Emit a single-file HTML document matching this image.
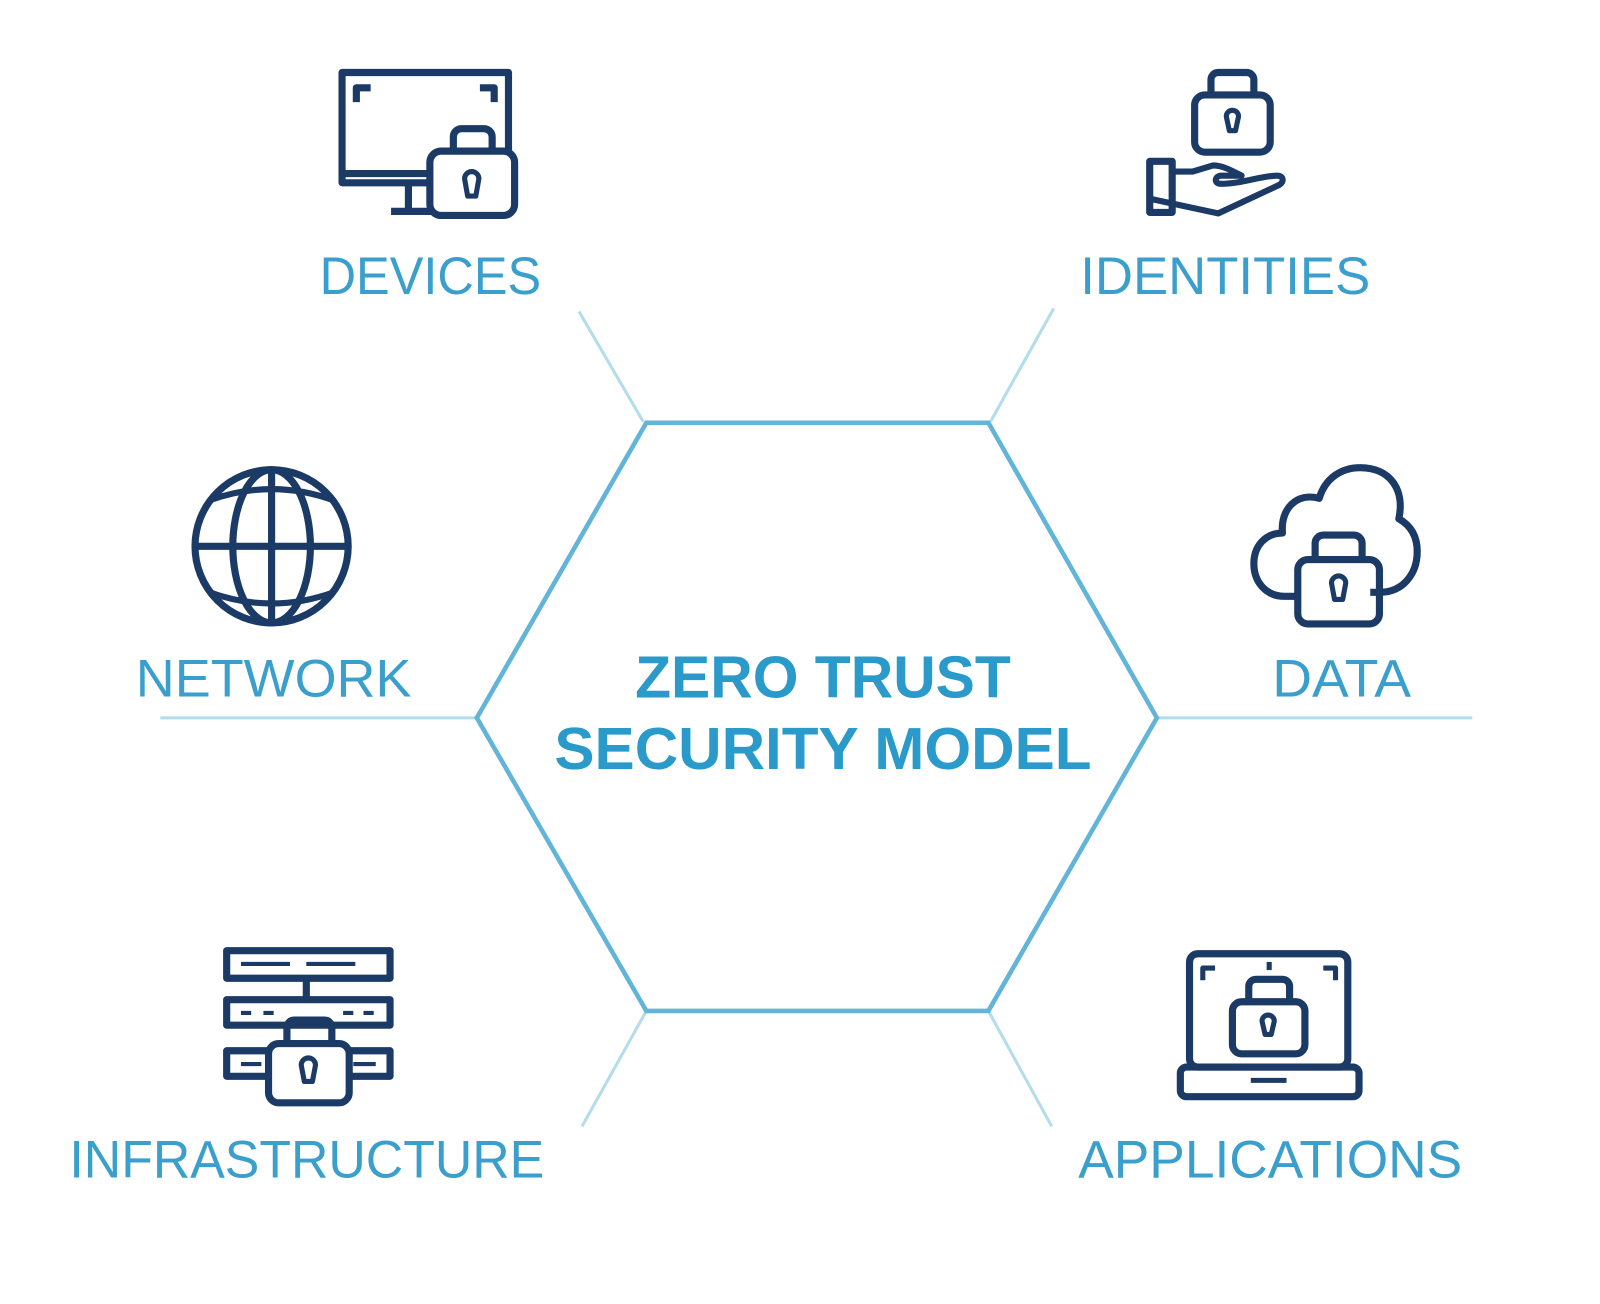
<!DOCTYPE html>
<html><head><meta charset="utf-8"><style>
html,body{margin:0;padding:0;background:#fff;}
svg{display:block;}
text{font-family:"Liberation Sans",sans-serif;}
</style></head><body>
<svg width="1600" height="1304" viewBox="0 0 1567 1277" preserveAspectRatio="none" xmlns="http://www.w3.org/2000/svg">
<rect width="1567" height="1277" fill="#fff"/>
<g stroke="#b3dcec" stroke-width="3" fill="none">
<line x1="630" y1="413" x2="567" y2="305"/>
<line x1="970" y1="413" x2="1032" y2="302"/>
<line x1="467" y1="703" x2="157" y2="703"/>
<line x1="1133" y1="703" x2="1442" y2="703"/>
<line x1="633" y1="990" x2="570" y2="1103"/>
<line x1="968" y1="990" x2="1030" y2="1103"/>
</g>
<polygon points="633,414 968,414 1133,703 968,990 633,990 467,703" fill="none" stroke="#62b4d8" stroke-width="4.5"/>
<g fill="#2a9acb" font-weight="bold" font-size="58" text-anchor="middle">
<text x="806" y="683" textLength="368" lengthAdjust="spacingAndGlyphs">ZERO TRUST</text>
<text x="806" y="753" textLength="526" lengthAdjust="spacingAndGlyphs">SECURITY MODEL</text>
</g>
<g fill="#3a9fcc" font-size="52">
<text x="313" y="288" textLength="217" lengthAdjust="spacingAndGlyphs">DEVICES</text>
<text x="1058" y="288" textLength="284" lengthAdjust="spacingAndGlyphs">IDENTITIES</text>
<text x="133" y="682" textLength="270" lengthAdjust="spacingAndGlyphs">NETWORK</text>
<text x="1246" y="682" textLength="136" lengthAdjust="spacingAndGlyphs">DATA</text>
<text x="68" y="1153" textLength="465" lengthAdjust="spacingAndGlyphs">INFRASTRUCTURE</text>
<text x="1056" y="1153" textLength="376" lengthAdjust="spacingAndGlyphs">APPLICATIONS</text>
</g>
<g stroke="#1b3a66" stroke-width="7" fill="none" stroke-linejoin="round">
<!-- devices -->
<rect x="335" y="71" width="163" height="108"/>
<line x1="335" y1="170" x2="425" y2="170"/>
<line x1="400" y1="180" x2="400" y2="205"/>
<line x1="383" y1="207" x2="425" y2="207"/>
<path d="M349 100 V86 H363 M470 86 H484 V100"/>
<rect x="421" y="148" width="83" height="63" rx="11" fill="#fff"/>
<path d="M444 148 V134 a8 8 0 0 1 8-8 h22 a8 8 0 0 1 8 8 V148"/>
<path d="M462 168 a7 7 0 0 1 7 7 l-3 17 h-8 l-3-17 a7 7 0 0 1 7-7z" stroke-width="5"/>
<!-- identities -->
<rect x="1170" y="93" width="74" height="56" rx="10"/>
<path d="M1186 93 V78 a7 7 0 0 1 7-7 h28 a7 7 0 0 1 7 7 V93"/>
<path d="M1207 108 a6 6 0 0 1 6 6 l-3 14 h-6 l-3-14 a6 6 0 0 1 6-6z" stroke-width="5"/>
<rect x="1126" y="158" width="22" height="50"/>
<path d="M1148 168 h20 l20 -6 c10 0 20 6 28 10 h-20 c-6 0 -8 8 0 8 c20 0 40-8 55-8 c6 0 7 6 2 9 l-60 28 l-65-14" stroke-width="6"/>
<!-- network -->
<circle cx="266" cy="535" r="75"/>
<ellipse cx="266" cy="535" rx="38" ry="75"/>
<line x1="266" y1="460" x2="266" y2="610"/>
<line x1="191" y1="535" x2="341" y2="535"/>
<path d="M205 490 Q266 468 327 490 M205 580 Q266 602 327 580" stroke-width="6"/>
<!-- data -->
<path d="M1268 584 h-10 c-18 0 -30-14 -30-32 c0-18 12-30 28-30 c-2-24 14-40 36-34 c6-20 22-30 40-30 c30 0 44 22 38 50 c14 8 18 20 18 32 c0 24-16 40-36 40 h-10"/>
<rect x="1271" y="548" width="80" height="63" rx="10"/>
<path d="M1288 548 V532 a8 8 0 0 1 8-8 h30 a8 8 0 0 1 8 8 V548"/>
<path d="M1311 564 a7 7 0 0 1 7 7 l-3 16 h-8 l-3-16 a7 7 0 0 1 7-7z" stroke-width="5"/>
<!-- infrastructure -->
<rect x="222" y="931" width="160" height="27"/>
<rect x="222" y="979" width="160" height="25"/>
<rect x="222" y="1029" width="160" height="25"/>
<line x1="300" y1="958" x2="300" y2="979"/>
<path d="M236 944 h48 M300 944 h48 M236 992 h10 M258 992 h10 M336 992 h10 M356 992 h10 M236 1042 h20 M346 1042 h22" stroke-width="4"/>
<rect x="263" y="1022" width="79" height="58" rx="10" fill="#fff"/>
<path d="M281 1022 V1006 a7 7 0 0 1 7-7 h30 a7 7 0 0 1 7 7 V1022"/>
<path d="M302 1036 a7 7 0 0 1 7 7 l-3 16 h-8 l-3-16 a7 7 0 0 1 7-7z" stroke-width="5"/>
<!-- applications -->
<rect x="1165" y="934" width="155" height="111" rx="8"/>
<rect x="1156" y="1045" width="175" height="29" rx="6"/>
<line x1="1225" y1="1058" x2="1260" y2="1058" stroke-width="5"/>
<path d="M1178 960 V948 H1190 M1296 948 H1308 V960" stroke-width="5"/>
<line x1="1243" y1="942" x2="1243" y2="950" stroke-width="5"/>
<rect x="1207" y="981" width="71" height="51" rx="9"/>
<path d="M1223 981 V966 a7 7 0 0 1 7-7 h26 a7 7 0 0 1 7 7 V981"/>
<path d="M1242 994 a6 6 0 0 1 6 6 l-3 13 h-6 l-3-13 a6 6 0 0 1 6-6z" stroke-width="5"/>
</g>
</svg>
</body></html>
